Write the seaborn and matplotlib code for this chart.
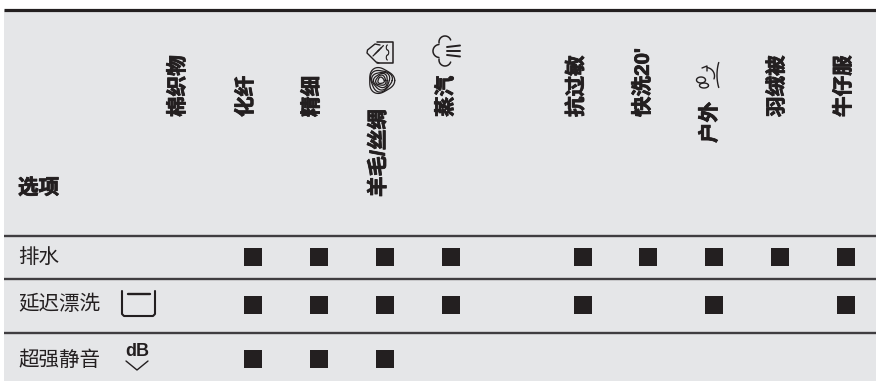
import numpy as np
import pandas as pd
import matplotlib.pyplot as plt
import matplotlib.patheffects as pe
import seaborn as sns

# Table content
programs = ['棉织物', '化纤', '精细', '羊毛/丝绸', '蒸汽', '', '抗过敏', '快洗20\'', '户外', '羽绒被', '牛仔服']
options = ['排水', '延迟漂洗', '超强静音']
drain = ['化纤', '精细', '羊毛/丝绸', '蒸汽', '抗过敏', '快洗20\'', '户外', '羽绒被', '牛仔服']
delay = ['化纤', '精细', '羊毛/丝绸', '蒸汽', '抗过敏', '户外', '牛仔服']
quiet = ['化纤', '精细', '羊毛/丝绸']
header = '选项'

# Layout in pixels of the 876x381 picture
label_x = [178, 246, 312, 378.5, 446, 0, 576.5, 643, 710, 777, 844]
label_bottom = [117, 117, 117, 197, 117, 0, 117, 117, 143, 117, 117]
row_y = [256.7, 304.7, 358.7]
text_y = [257, 304, 360]
rule_y = [236, 279, 333]
ink = '#231f20'
panel = '#e5e6e8'

sns.set_theme(style='white')
plt.rcParams['font.family'] = ['Liberation Sans', 'Noto Sans CJK SC', 'DejaVu Sans']

rows = []
for option, members in zip(options, [drain, delay, quiet]):
    for program in members:
        rows.append({'option': option, 'program': program})
df = pd.DataFrame(rows)
df['col'] = df['program'].map(programs.index)
df['y'] = df['option'].map(dict(zip(options, row_y)))

fig = plt.figure(figsize=(8.76, 3.81), dpi=100, facecolor='white')

# Pixel axes for panel, rules, text and icons
px = fig.add_axes([0, 0, 1, 1])
px.set_xlim(0, 876)
px.set_ylim(381, 0)
px.axis('off')
px.fill_between([4, 876], 10, 381, color=panel, lw=0)
px.plot([4, 876], [9.5, 9.5], color=ink, lw=2.3, solid_capstyle='butt')
for y in rule_y:
    px.plot([4, 876], [y, y], color='#3f3d40', lw=1.7, solid_capstyle='butt')

# Squares, one column unit per program slot
ax = fig.add_axes([0, 0, 1, 1], facecolor='none')
col0, step = 187.5, 65.85
ax.set_xlim(-col0 / step, (876 - col0) / step)
ax.set_ylim(381, 0)
ax.axis('off')
sns.scatterplot(data=df, x='col', y='y', marker='s', s=150, color=ink, linewidth=0, ax=ax, legend=False)

# Heavy look of the printed headers
heavy = [pe.withStroke(linewidth=0.6, foreground=ink)]
for name, x, bottom in zip(programs, label_x, label_bottom):
    if name:
        px.text(x, bottom, name, rotation=90, ha='center', va='bottom', fontsize=14.8,
                fontweight='bold', color=ink, path_effects=heavy)
px.text(18, 188, header, ha='left', va='center', fontsize=14.8, fontweight='bold', color=ink, path_effects=heavy)
for name, y in zip(options, text_y):
    px.text(18, y, name, ha='left', va='center', fontsize=14.8, color=ink)


def line(xs, ys, lw=1.1):
    px.plot(xs, ys, color=ink, lw=lw, solid_capstyle='round', solid_joinstyle='round')


def arc(cx, cy, r, a0, a1, ry=None, lw=1.1):
    t = np.radians(np.linspace(a0, a1, 40))
    line(cx + r * np.cos(t), cy + (ry or r) * np.sin(t), lw)


# Rinse hold tub
line([122, 122, 124, 153, 155, 155], [291, 314, 316, 316, 314, 291], 1.5)
line([128, 150], [294, 294], 1.7)

# dB chevron
px.text(137, 351, 'dB', ha='center', va='center', fontsize=13, fontweight='bold', color=ink)
line([126, 137, 148], [361, 370, 361], 1.0)

# Hand wash
line([377, 392.7, 392.7, 377], [41.7, 41.7, 63, 63], 1.1)
arc(387.5, 52.5, 1.2, -90, 90, ry=2.5, lw=0.8)
arc(387.5, 47.5, 1.2, 90, 270, ry=2.5, lw=0.8)
arc(387.5, 57.5, 1.2, 90, 270, ry=2.5, lw=0.8)
line([380, 375, 367.5, 367, 376, 379], [45, 44, 50, 53, 62, 63], 1.0)
for dx in [0, 2.2, 4.4]:
    line([373 + dx, 379 + dx], [56 - dx, 50 - dx], 0.9)

# Wool mark, twisted rounded triangles
t = np.linspace(0, 2 * np.pi, 120)
for i, scale in enumerate([1.0, 0.85, 0.7, 0.55, 0.4, 0.25]):
    r = 12.5 * scale * (1 + 0.1 * np.cos(3 * (t + 0.35 * i)))
    px.plot(381 + r * np.cos(t), 80.5 + r * np.sin(t), color=ink, lw=0.9)

# Steam
arc(445, 42, 6, -20, -190)
arc(439.5, 51, 6.5, -95, -265)
arc(445, 60, 6, 190, 20)
for y0, y1 in [(45.5, 47), (51, 51), (56.5, 55)]:
    line([447, 460], [y1, y0], 1.4)

# Outdoor
arc(730, 75, 13, 150, 210, ry=25, lw=1.0)
arc(706, 76, 8.5, -80, 20, lw=1.0)
line([702, 707, 707], [68, 66, 71], 1.0)
arc(701, 80, 4.5, 0, 360, ry=3, lw=1.0)
arc(704, 85.5, 4.5, 0, 360, ry=2.5, lw=1.0)

fig.savefig('out.png', dpi=100)
